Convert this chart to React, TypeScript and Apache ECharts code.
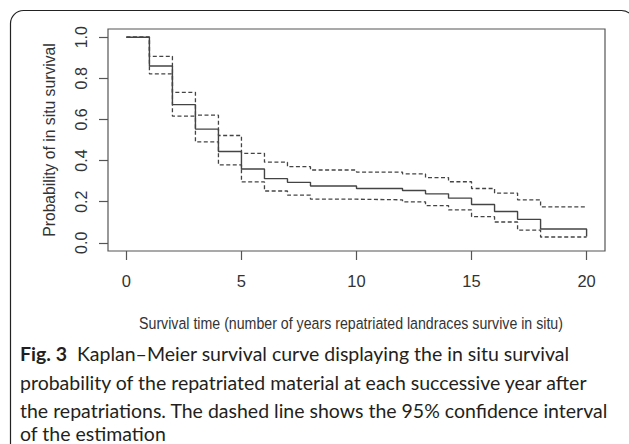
import React, { useEffect, useRef } from "react";
import * as echarts from "echarts";

const times = [0, 1, 2, 3, 4, 5, 6, 7, 8, 10, 12, 13, 14, 15, 16, 17, 18, 20];
const survival = [1.0, 0.86, 0.672, 0.553, 0.444, 0.359, 0.312, 0.294, 0.276, 0.264, 0.254, 0.238, 0.217, 0.186, 0.152, 0.114, 0.067, 0.03];
const upper = [1.0, 0.907, 0.732, 0.621, 0.522, 0.435, 0.392, 0.37, 0.354, 0.344, 0.335, 0.317, 0.297, 0.264, 0.242, 0.209, 0.175, 0.175];
const lower = [1.0, 0.822, 0.616, 0.491, 0.379, 0.296, 0.252, 0.232, 0.212, 0.209, 0.199, 0.181, 0.16, 0.127, 0.101, 0.062, 0.028, 0.028];
const xTicks = [0, 5, 10, 15, 20];
const yTicks = [0, 0.2, 0.4, 0.6, 0.8, 1.0];

const xTitle = "Survival time (number of years repatriated landraces survive in situ)";
const yTitle = "Probability of in situ survival";
const captionLines = [
  "Kaplan–Meier survival curve displaying the in situ survival",
  "probability of the repatriated material at each successive year after",
  "the repatriations. The dashed line shows the 95% confidence interval",
  "of the estimation",
];

const RFONT = "'Liberation Sans', Arial, sans-serif";
const CFONT = "Lato, 'Noto Sans', sans-serif";
const captionCenters = [353, 382, 410, 433];

export default function App() {
  const ref = useRef<HTMLDivElement>(null);
  useEffect(() => {
    if (!ref.current) return;
    const chart = echarts.init(ref.current, undefined, { renderer: "svg" });
    const pts = (ys: number[]) => times.map((t, i) => [t, ys[i]]);
    const lineColor = "#444";
    chart.setOption({
      animation: false,
      backgroundColor: "#fff",
      grid: {
        left: 108,
        top: 29,
        right: 24,
        bottom: 193,
        show: true,
        borderColor: "#555",
        borderWidth: 1.2,
        backgroundColor: "transparent",
      },
      xAxis: {
        type: "value",
        min: -0.8,
        max: 20.8,
        axisLine: { show: false, onZero: false },
        splitLine: { show: false },
        axisTick: { show: true, length: 9, customValues: xTicks, lineStyle: { color: "#555", width: 1.2 } },
        axisLabel: { customValues: xTicks, margin: 21, fontFamily: RFONT, fontSize: 16.5, color: "#333" },
      },
      yAxis: {
        type: "value",
        min: -0.04,
        max: 1.04,
        name: yTitle,
        nameLocation: "middle",
        nameRotate: 90,
        nameGap: 51,
        nameTextStyle: { fontFamily: RFONT, fontSize: 15.7, color: "#333" },
        axisLine: { show: false, onZero: false },
        splitLine: { show: false },
        axisTick: { show: true, length: 9, customValues: yTicks, lineStyle: { color: "#555", width: 1.2 } },
        axisLabel: {
          customValues: yTicks,
          rotate: 90,
          margin: 19,
          fontFamily: RFONT,
          fontSize: 16,
          color: "#333",
          formatter: (v: number) => v.toFixed(1),
        },
      },
      series: [
        {
          type: "line",
          step: "end",
          data: pts(upper),
          symbol: "none",
          z: 2,
          lineStyle: { color: lineColor, width: 1.3, type: [4, 2.5] },
        },
        {
          type: "line",
          step: "end",
          data: pts(lower),
          symbol: "none",
          z: 2,
          lineStyle: { color: lineColor, width: 1.3, type: [4, 2.5] },
        },
        {
          type: "line",
          step: "end",
          data: pts(survival),
          symbol: "none",
          z: 3,
          lineStyle: { color: lineColor, width: 1.4 },
        },
      ],
      graphic: [
        {
          type: "rect",
          shape: { x: 10.5, y: 10.5, width: 624, height: 600, r: 13 },
          style: { fill: "none", stroke: "#222", lineWidth: 1.2 },
          silent: true,
        },
        {
          type: "text",
          x: 351,
          y: 323,
          scaleX: 0.86,
          style: {
            text: xTitle,
            fontFamily: RFONT,
            fontSize: 16.5,
            align: "center",
            verticalAlign: "middle",
            fill: "#333",
          },
        },
        {
          type: "text",
          x: 20,
          y: captionCenters[0],
          style: {
            text: "{b|Fig. 3}  " + captionLines[0],
            fontFamily: CFONT,
            fontSize: 19.5,
            lineHeight: 15,
            verticalAlign: "middle",
            fill: "#231f20",
            rich: { b: { fontFamily: CFONT, fontSize: 19.5, lineHeight: 15, fontWeight: "bold", fill: "#231f20" } },
          },
        },
        ...captionLines.slice(1).map((line, i) => ({
          type: "text",
          x: 20,
          y: captionCenters[i + 1],
          style: {
            text: line,
            fontFamily: CFONT,
            fontSize: 19.5,
            lineHeight: 15,
            verticalAlign: "middle",
            fill: "#231f20",
          },
        })),
      ],
    });
    return () => chart.dispose();
  }, []);
  return <div ref={ref} style={{ position: "fixed", left: 0, top: 0, width: 629, height: 444 }} />;
}
